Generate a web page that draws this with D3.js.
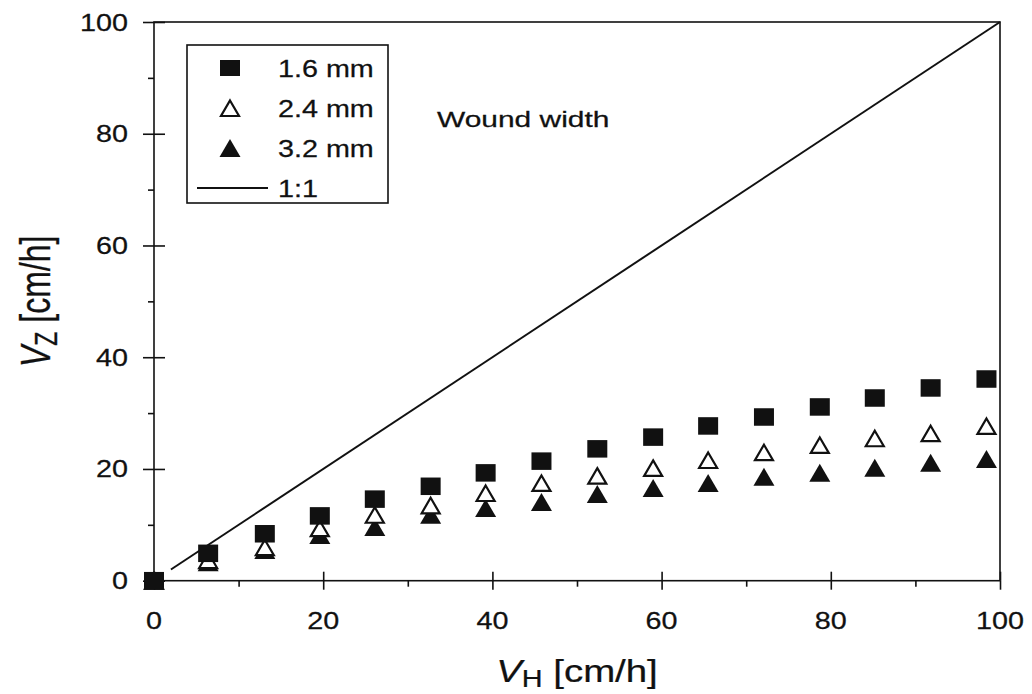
<!DOCTYPE html>
<html>
<head>
<meta charset="utf-8">
<script src="https://cdn.jsdelivr.net/npm/d3@7"></script>
<style>
  html, body { margin: 0; padding: 0; background: #fff; }
  svg { display: block; }
  text { font-family: "Liberation Sans", Arial, sans-serif; fill: #111; stroke: #111; stroke-width: 0.25px; }
</style>
</head>
<body>
<svg id="chart" width="1032" height="694"></svg>
<script>
// ---- data ----
const vH       = [0, 6.4, 13.1, 19.6, 26.1, 32.7, 39.2, 45.8, 52.4, 59.0, 65.5, 72.1, 78.7, 85.2, 91.8, 98.4];
const vz16     = [0, 4.9, 8.4, 11.6, 14.6, 16.9, 19.3, 21.4, 23.6, 25.7, 27.7, 29.3, 31.1, 32.7, 34.5, 36.1];
const vz24     = [0, 3.7, 6.0, 9.4, 11.8, 13.5, 15.7, 17.5, 18.8, 20.2, 21.6, 23.0, 24.3, 25.5, 26.4, 27.7];
const vz32     = [0, 3.3, 5.5, 8.2, 9.6, 11.8, 13.0, 14.1, 15.5, 16.6, 17.5, 18.6, 19.3, 20.2, 21.1, 21.8];
const oneToOne = [2, 100];
const majorTicks = [0, 20, 40, 60, 80, 100];
const minorTicks = [10, 30, 50, 70, 90];
const legendLabels = ["1.6 mm", "2.4 mm", "3.2 mm", "1:1"];
const annotation = "Wound width";

// ---- layout ----
const svg = d3.select("#chart");
const X0 = 154, X1 = 1000, Y0 = 580.7, Y1 = 22;
const x = d3.scaleLinear().domain([0, 100]).range([X0, X1]);
const y = d3.scaleLinear().domain([0, 100]).range([Y0, Y1]);
const SX = 1.25; // horizontal text stretch

// frame
svg.append("rect").attr("x", X0).attr("y", Y1).attr("width", X1 - X0).attr("height", Y0 - Y1)
  .attr("fill", "none").attr("stroke", "#111").attr("stroke-width", 1.6);

function styleAxis(g) {
  g.select(".domain").remove();
  g.selectAll("line").attr("stroke", "#111").attr("stroke-width", 1.6);
  g.selectAll("text").remove();
}
// y axis ticks
svg.append("g").attr("transform", `translate(${X0},0)`)
  .call(d3.axisLeft(y).tickValues(majorTicks).tickSize(11).tickFormat("")).call(styleAxis);
svg.append("g").attr("transform", `translate(${X0},0)`)
  .call(d3.axisRight(y).tickValues(majorTicks).tickSize(11).tickFormat("")).call(styleAxis);
svg.append("g").attr("transform", `translate(${X0},0)`)
  .call(d3.axisLeft(y).tickValues(minorTicks).tickSize(6).tickFormat("")).call(styleAxis);
// x axis ticks
svg.append("g").attr("transform", `translate(0,${Y0})`)
  .call(d3.axisBottom(x).tickValues(majorTicks).tickSize(9).tickFormat("")).call(styleAxis);
svg.append("g").attr("transform", `translate(0,${Y0})`)
  .call(d3.axisTop(x).tickValues(majorTicks).tickSize(9).tickFormat("")).call(styleAxis);
svg.append("g").attr("transform", `translate(0,${Y0})`)
  .call(d3.axisBottom(x).tickValues(minorTicks).tickSize(6).tickFormat("")).call(styleAxis);

// tick labels
svg.append("g").selectAll("text").data(majorTicks).join("text")
  .attr("transform", d => `translate(128,${y(d) + 8.5}) scale(${SX},1)`)
  .attr("text-anchor", "end").attr("font-size", 23).text(d => d);
svg.append("g").selectAll("text").data(majorTicks).join("text")
  .attr("transform", d => `translate(${x(d)},629) scale(${SX},1)`)
  .attr("text-anchor", "middle").attr("font-size", 23).text(d => d);

// axis titles
const xt = svg.append("text").attr("transform", `translate(${(X0 + X1) / 2},682) scale(1.2,1)`)
  .attr("text-anchor", "middle").attr("font-size", 32);
xt.append("tspan").attr("font-style", "italic").text("V");
xt.append("tspan").attr("font-size", 24).attr("dy", 5).text("H");
xt.append("tspan").attr("dy", -5).text(" [cm/h]");

const yt = svg.append("text").attr("transform", `translate(50,${(Y0 + Y1) / 2}) rotate(-90) scale(1,1.35)`)
  .attr("text-anchor", "middle").attr("font-size", 32);
yt.append("tspan").attr("font-style", "italic").text("V");
yt.append("tspan").attr("font-size", 23).attr("dy", 5).text("Z");
yt.append("tspan").attr("dy", -5).text(" [cm/h]");

// 1:1 line
svg.append("line").attr("x1", x(oneToOne[0])).attr("y1", y(oneToOne[0]))
  .attr("x2", x(oneToOne[1])).attr("y2", y(oneToOne[1]))
  .attr("stroke", "#111").attr("stroke-width", 2);

// markers
const TW = 21, TH = 18, SW = 20, SH = 17.5;
const triPath = `M0,${-TH / 2} L${TW / 2},${TH / 2} L${-TW / 2},${TH / 2} Z`;
const triOpenPath = `M0,${-TH / 2 + 1.5} L${TW / 2 - 1.5},${TH / 2 - 1} L${-TW / 2 + 1.5},${TH / 2 - 1} Z`;

function drawSeries(vals, kind) {
  const g = svg.append("g");
  const pts = vH.map((v, i) => [v, vals[i]]);
  if (kind === "square") {
    g.selectAll("rect").data(pts).join("rect")
      .attr("x", d => x(d[0]) - SW / 2).attr("y", d => y(d[1]) - SH / 2)
      .attr("width", SW).attr("height", SH).attr("fill", "#111");
  } else if (kind === "filled") {
    g.selectAll("path").data(pts).join("path")
      .attr("transform", d => `translate(${x(d[0])},${y(d[1])})`)
      .attr("d", triPath).attr("fill", "#111");
  } else {
    g.selectAll("path").data(pts).join("path")
      .attr("transform", d => `translate(${x(d[0])},${y(d[1])})`)
      .attr("d", triOpenPath).attr("fill", "#fff").attr("stroke", "#111").attr("stroke-width", 2.2)
      .attr("stroke-linejoin", "miter");
  }
}
drawSeries(vz32, "filled");
drawSeries(vz24, "open");
drawSeries(vz16, "square");

// legend
svg.append("rect").attr("x", 187).attr("y", 45).attr("width", 201).attr("height", 158)
  .attr("fill", "#fff").attr("stroke", "#111").attr("stroke-width", 1.6);
const lx = 230, ly = [68, 108, 148, 188];
svg.append("rect").attr("x", lx - SW / 2).attr("y", ly[0] - 8).attr("width", SW).attr("height", 16).attr("fill", "#111");
svg.append("path").attr("transform", `translate(${lx},${ly[1]})`).attr("d", triOpenPath)
  .attr("fill", "#fff").attr("stroke", "#111").attr("stroke-width", 2.2);
svg.append("path").attr("transform", `translate(${lx},${ly[2]})`).attr("d", triPath).attr("fill", "#111");
svg.append("line").attr("x1", 197).attr("x2", 268).attr("y1", ly[3]).attr("y2", ly[3])
  .attr("stroke", "#111").attr("stroke-width", 2);
svg.append("g").selectAll("text").data(legendLabels).join("text")
  .attr("transform", (d, i) => `translate(278,${ly[i] + 9}) scale(${SX},1)`)
  .attr("font-size", 23).text(d => d);

// annotation
svg.append("text").attr("transform", `translate(437,127) scale(1.36,1)`)
  .attr("font-size", 22).text(annotation);
</script>
</body>
</html>
